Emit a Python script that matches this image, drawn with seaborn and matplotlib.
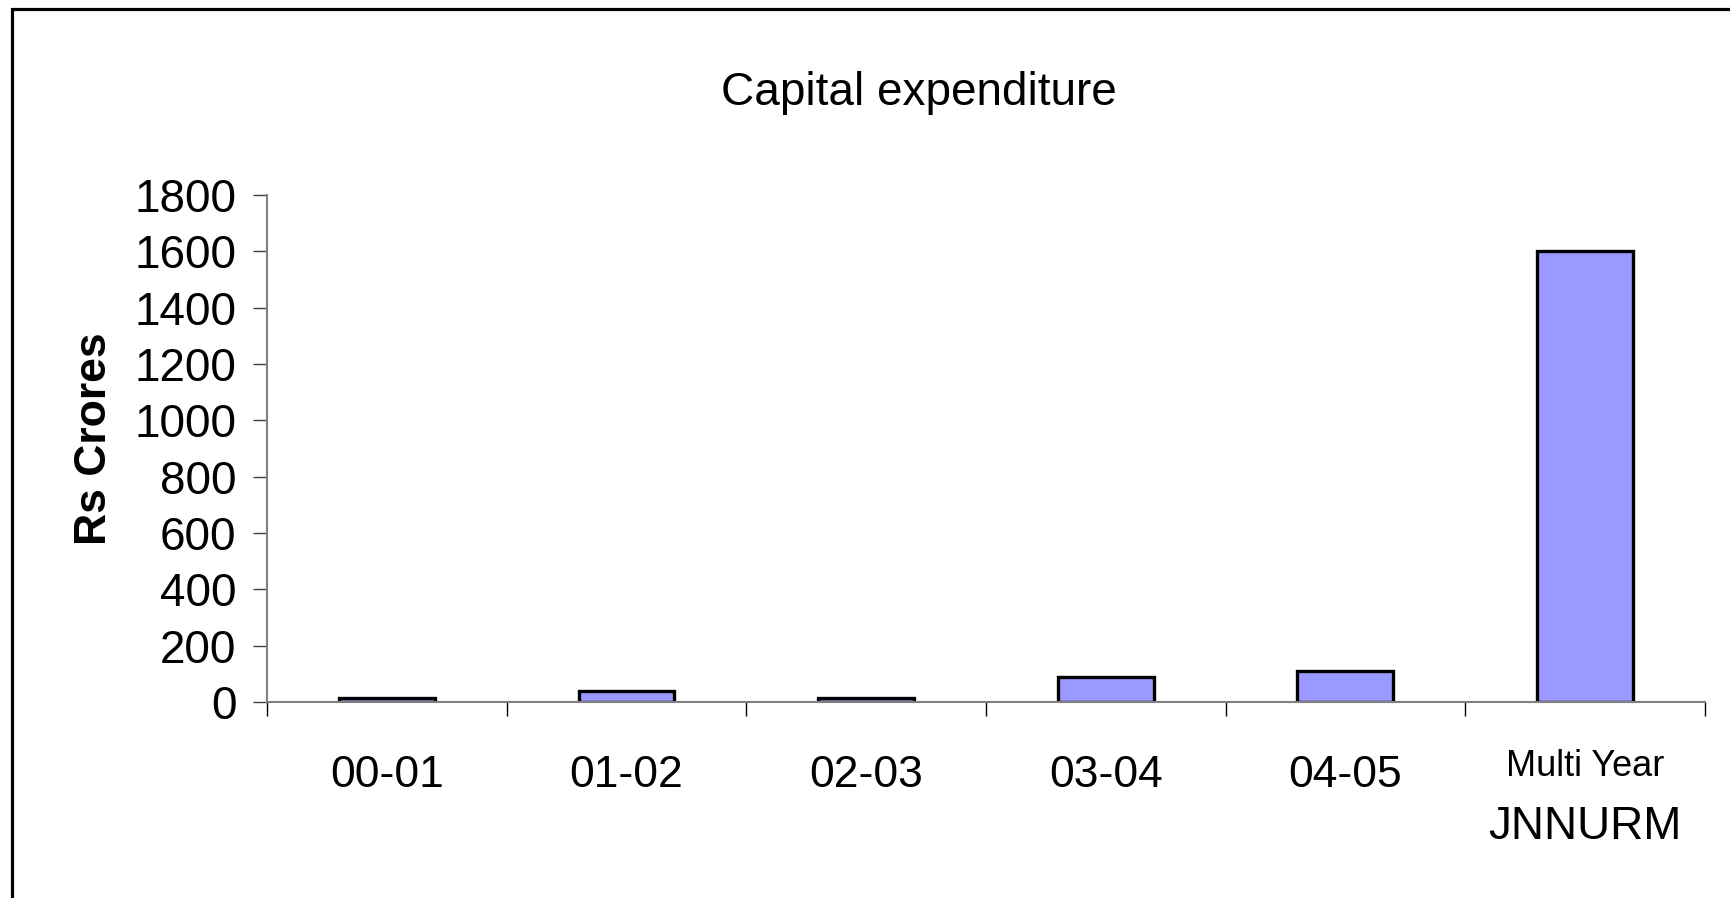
import pandas as pd
import seaborn as sns
import matplotlib.pyplot as plt
from matplotlib.patches import Rectangle

# data
periods = ["00-01", "01-02", "02-03", "03-04", "04-05", "Multi Year"]
capex = [15, 40, 13, 90, 110, 1600]
y_ticks = [0, 200, 400, 600, 800, 1000, 1200, 1400, 1600, 1800]

df = pd.DataFrame({"period": periods, "capex": capex})

sns.set_style("white")
plt.rcParams["font.family"] = ["Liberation Sans", "DejaVu Sans"]
plt.rcParams["text.color"] = "black"
plt.rcParams["xtick.color"] = "black"
plt.rcParams["ytick.color"] = "black"
plt.rcParams["axes.labelcolor"] = "black"

fig = plt.figure(figsize=(17.3, 8.98), dpi=100)
ax = fig.add_axes([0.1543, 0.2183, 0.8312, 0.5646])

sns.barplot(data=df, x="period", y="capex", color="#9999FF", saturation=1,
            width=0.40, edgecolor="black", linewidth=2.4, ax=ax)

ax.set_xlim(-0.5, 5.5)
ax.set_ylim(0, 1800)
ax.set_yticks(y_ticks)
ax.set_yticklabels([str(v) for v in y_ticks], fontsize=33)
ax.tick_params(axis="y", left=True, length=10, width=1, color="#404040", pad=12)

# category boundaries as tick marks, labels in the middle
ax.set_xticks([i - 0.5 for i in range(len(periods) + 1)])
ax.set_xticklabels([])
ax.set_xticks(range(len(periods)), minor=True)
ax.set_xticklabels(periods, minor=True, fontsize=32)
ax.tick_params(axis="x", which="major", bottom=True, length=10, width=1, color="black")
ax.tick_params(axis="x", which="minor", bottom=True, length=0, pad=38)
lbls = ax.get_xticklabels(minor=True)
lbls[-1].set_fontsize(26)
lbls[-1].set_y(0.012)

for s in ["top", "right"]:
    ax.spines[s].set_visible(False)
for s in ["left", "bottom"]:
    ax.spines[s].set_color("#808080")
    ax.spines[s].set_linewidth(1.5)

ax.set_xlabel("")
ax.set_ylabel("Rs Crores", fontsize=32, fontweight="bold")
ax.yaxis.set_label_coords(-0.106, 0.52)

fig.text(0.531, 0.896, "Capital expenditure", fontsize=33, ha="center", va="center")
fig.text(0.916, 0.079, "JNNURM", fontsize=33, ha="center", va="center")

# outer frame (right/bottom edges run off the picture)
fig.patches.append(Rectangle((11.5 / 1730, -0.05), 1.1, 1 - 8.5 / 898 + 0.05,
                             transform=fig.transFigure, fill=False,
                             edgecolor="black", linewidth=2.3))

fig.savefig("out.png", dpi=100)
